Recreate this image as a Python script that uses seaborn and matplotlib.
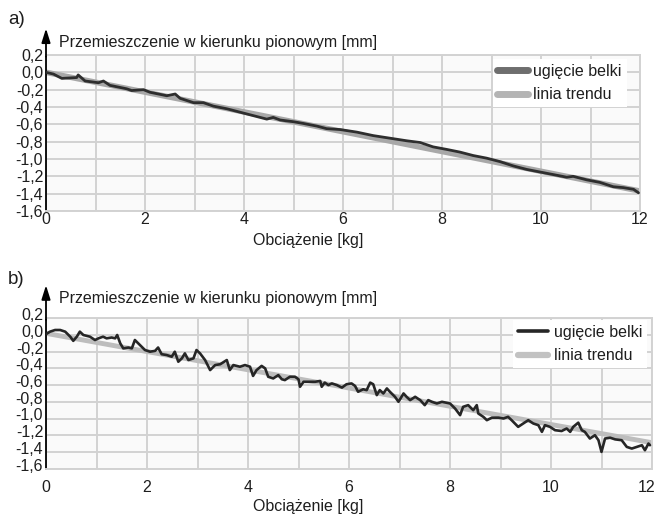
import matplotlib
matplotlib.use('Agg')
from matplotlib import pyplot as plt
from matplotlib import transforms
import seaborn as sns

# panel a) ---------------------------------------------------------------
load_a = [0.00, 0.15, 0.32, 0.62, 0.65, 0.79, 1.06, 1.16, 1.29, 1.63,
          1.73, 1.97, 2.10, 2.44, 2.61, 2.71, 2.98, 3.18, 3.38, 3.65,
          3.92, 4.19, 4.46, 4.59, 4.73, 5.00, 5.20, 5.47, 5.67, 5.94,
          6.28, 6.61, 6.95, 7.29, 7.56, 7.82, 8.10, 8.36, 8.63, 8.90,
          9.17, 9.44, 9.71, 9.98, 10.25, 10.52, 10.65, 10.92, 11.19, 11.46,
          11.66, 11.87, 11.97]
defl_a = [0.00, -0.02, -0.07, -0.06, -0.03, -0.10, -0.12, -0.10, -0.15, -0.19,
          -0.21, -0.20, -0.23, -0.27, -0.25, -0.30, -0.35, -0.35, -0.39, -0.42,
          -0.46, -0.50, -0.54, -0.52, -0.55, -0.57, -0.59, -0.62, -0.65, -0.66,
          -0.69, -0.73, -0.76, -0.79, -0.81, -0.86, -0.89, -0.92, -0.96, -0.99,
          -1.03, -1.08, -1.12, -1.15, -1.18, -1.21, -1.20, -1.24, -1.27, -1.32,
          -1.33, -1.35, -1.39]
trend_a_x = [0, 12]
trend_a_y = [0.0, -1.37]

# panel b) ---------------------------------------------------------------
load_b = [0.00, 0.08, 0.18, 0.28, 0.38, 0.48, 0.54, 0.61, 0.67, 0.74,
          0.87, 0.97, 1.04, 1.13, 1.20, 1.30, 1.37, 1.41, 1.47, 1.53,
          1.63, 1.70, 1.76, 1.86, 1.96, 2.06, 2.16, 2.22, 2.29, 2.39,
          2.49, 2.55, 2.62, 2.69, 2.75, 2.82, 2.92, 2.98, 3.05, 3.15,
          3.25, 3.35, 3.45, 3.58, 3.64, 3.71, 3.84,
          3.94, 4.04, 4.10, 4.17, 4.27, 4.34, 4.40, 4.50, 4.60, 4.67,
          4.73, 4.83, 4.93, 5.00, 5.03, 5.10, 5.19, 5.33, 5.43, 5.46,
          5.52, 5.59, 5.66, 5.76, 5.86, 5.95, 6.05, 6.12, 6.18, 6.28,
          6.35, 6.42, 6.48, 6.55, 6.61, 6.68, 6.75, 6.81, 6.91, 6.98,
          7.08, 7.14, 7.21, 7.31, 7.41, 7.50, 7.57, 7.64, 7.74, 7.84,
          8.00, 8.10, 8.20, 8.26, 8.36, 8.46, 8.53, 8.56, 8.66, 8.73,
          8.83, 8.96, 9.06, 9.15, 9.22, 9.35, 9.45, 9.55, 9.65, 9.75,
          9.82, 9.88, 9.98, 10.08, 10.21, 10.31, 10.38, 10.44, 10.54, 10.61,
          10.67, 10.77, 10.87, 10.94, 11.00, 11.07, 11.17, 11.27, 11.40, 11.50,
          11.60, 11.70, 11.80, 11.86, 11.93, 11.96]
defl_b = [0.01, 0.04, 0.06, 0.06, 0.04, -0.02, -0.07, -0.02, 0.04, 0.00,
          -0.02, -0.06, -0.04, -0.02, -0.04, -0.03, -0.04, 0.00, -0.10, -0.16,
          -0.15, -0.16, -0.06, -0.12, -0.18, -0.20, -0.19, -0.15, -0.23, -0.24,
          -0.26, -0.20, -0.32, -0.28, -0.22, -0.30, -0.28, -0.18, -0.22, -0.30,
          -0.42, -0.36, -0.35, -0.30, -0.42, -0.36, -0.38,
          -0.36, -0.38, -0.49, -0.42, -0.37, -0.40, -0.50, -0.52, -0.48, -0.53,
          -0.54, -0.50, -0.50, -0.53, -0.62, -0.56, -0.56, -0.56, -0.55, -0.62,
          -0.57, -0.60, -0.58, -0.60, -0.63, -0.59, -0.58, -0.61, -0.68, -0.65,
          -0.66, -0.57, -0.59, -0.72, -0.66, -0.70, -0.64, -0.68, -0.74, -0.80,
          -0.70, -0.74, -0.78, -0.74, -0.78, -0.84, -0.78, -0.80, -0.82, -0.80,
          -0.82, -0.88, -0.96, -0.86, -0.84, -0.90, -0.84, -0.94, -0.98, -1.02,
          -0.99, -0.99, -1.00, -0.98, -1.02, -1.10, -1.06, -1.02, -1.06, -1.08,
          -1.16, -1.08, -1.10, -1.14, -1.15, -1.12, -1.16, -1.10, -1.05, -1.14,
          -1.16, -1.24, -1.20, -1.26, -1.40, -1.24, -1.23, -1.25, -1.26, -1.34,
          -1.36, -1.34, -1.32, -1.38, -1.30, -1.32]
trend_b_x = [0, 12]
trend_b_y = [0.02, -1.29]

ytick_vals = [0.2, 0.0, -0.2, -0.4, -0.6, -0.8, -1.0, -1.2, -1.4, -1.6]
ytick_labels = ['0,2', '0,0', '-0,2', '-0,4', '-0,6', '-0,8', '-1,0', '-1,2', '-1,4', '-1,6']
xtick_major = [0, 2, 4, 6, 8, 10, 12]
xtick_minor = [1, 3, 5, 7, 9, 11]
ylabel_txt = 'Przemieszczenie w kierunku pionowym [mm]'
xlabel_txt = 'Obciążenie [kg]'
legend_labels = ['ugięcie belki', 'linia trendu']

W, H = 658, 515
FS = 11.5
TXT = '#1e1e1e'
GRID = '#d2d2d2'


def panel(fig, box, load, defl, tx, ty, data_style, trend_style, leg_handles,
          leg_anchor, xpad, ylab_shift, arrow_top, last_shift):
    # box w pikselach: left, top, right, bottom
    l, t, r, b = box
    ax = fig.add_axes([l / W, 1 - b / H, (r - l) / W, (b - t) / H])
    ax.set_facecolor('#fafafa')
    sns.lineplot(x=tx, y=ty, ax=ax, label=legend_labels[1], estimator=None,
                 sort=False, zorder=2, **trend_style)
    sns.lineplot(x=load, y=defl, ax=ax, label=legend_labels[0], estimator=None,
                 sort=False, zorder=3, **data_style)
    ax.set_xlim(0, 12)
    ax.set_ylim(-1.6, 0.2)
    ax.set_xticks(xtick_major)
    ax.set_xticks(xtick_minor, minor=True)
    ax.set_yticks(ytick_vals)
    ax.set_yticklabels(ytick_labels)
    ax.grid(True, which='both', color=GRID, lw=1.4)
    ax.tick_params(axis='both', which='both', length=0, labelsize=FS, colors=TXT)
    ax.tick_params(axis='x', pad=xpad)
    ax.tick_params(axis='y', pad=2)
    for s in ['top', 'right', 'bottom']:
        ax.spines[s].set_color(GRID)
        ax.spines[s].set_linewidth(1.4)
    ax.spines['left'].set_color('black')
    ax.spines['left'].set_linewidth(1.3)
    ax.set_xlabel('')
    ax.set_ylabel('')
    if ylab_shift:
        off = transforms.ScaledTranslation(0, ylab_shift / 100, fig.dpi_scale_trans)
        for lab in ax.get_yticklabels():
            lab.set_transform(lab.get_transform() + off)
    if last_shift:
        off = transforms.ScaledTranslation(-last_shift / 100, 0, fig.dpi_scale_trans)
        lab = ax.get_xticklabels()[-1]
        lab.set_transform(lab.get_transform() + off)
    # strzałka osi Y
    ax.annotate('', xy=(0, arrow_top), xytext=(0, 0.99), xycoords='axes fraction',
                arrowprops=dict(arrowstyle='-|>,head_length=0.7,head_width=0.22',
                                color='black', lw=1.3, shrinkA=0, shrinkB=0),
                annotation_clip=False)
    # legenda
    h, lab = ax.get_legend_handles_labels()
    order = [lab.index(legend_labels[0]), lab.index(legend_labels[1])]
    leg = ax.legend([h[i] for i in order], [lab[i] for i in order],
                    loc='upper left', bbox_to_anchor=leg_anchor, borderaxespad=0,
                    frameon=True, facecolor='white', edgecolor='none', framealpha=1,
                    fancybox=False, fontsize=FS, handlelength=1.9, handletextpad=0.35,
                    labelspacing=0.55, borderpad=0.3)
    for line, (c, lw) in zip(leg.get_lines(), leg_handles):
        line.set_color(c)
        line.set_linewidth(lw)
    for text in leg.get_texts():
        text.set_color(TXT)
    return ax


def main():
    sns.set_theme(style='whitegrid')
    plt.rcParams['font.family'] = ['Liberation Sans', 'DejaVu Sans']
    fig = plt.figure(figsize=(W / 100, H / 100), dpi=100)
    fig.patch.set_facecolor('white')

    # a) ------------------------------------------------------------------
    panel(fig, (46, 55, 640, 211), load_a, defl_a, trend_a_x, trend_a_y,
          dict(color='#2e2e2e', lw=2.0), dict(color='#a8a8a8', lw=4.0),
          [('#6e6e6e', 5), ('#b4b4b4', 5)],
          (0.752, 0.975), 1, 0, 1.17, 0)
    fig.text(8 / W, 1 - 20 / H, 'a)', fontsize=13.5, color=TXT, va='center')
    fig.text(59 / W, 1 - 42 / H, ylabel_txt, fontsize=FS, color=TXT, va='center')
    fig.text(308 / W, 1 - 240 / H, xlabel_txt, fontsize=FS, color=TXT,
             ha='center', va='center')

    # b) ------------------------------------------------------------------
    panel(fig, (46, 318.3, 652, 468.6), load_b, defl_b, trend_b_x, trend_b_y,
          dict(color='#262626', lw=1.9), dict(color='#bdbdbd', lw=3.5),
          [('#262626', 2.6), ('#c2c2c2', 4.5)],
          (0.771, 0.99), 8, 4, 1.22, 5)
    fig.text(8 / W, 1 - 280 / H, 'b)', fontsize=13.5, color=TXT, va='center')
    fig.text(59 / W, 1 - 298 / H, ylabel_txt, fontsize=FS, color=TXT, va='center')
    fig.text(308 / W, 1 - 506 / H, xlabel_txt, fontsize=FS, color=TXT,
             ha='center', va='center')

    fig.savefig('out.png', dpi=100, facecolor='white')


if __name__ == '__main__':
    main()
